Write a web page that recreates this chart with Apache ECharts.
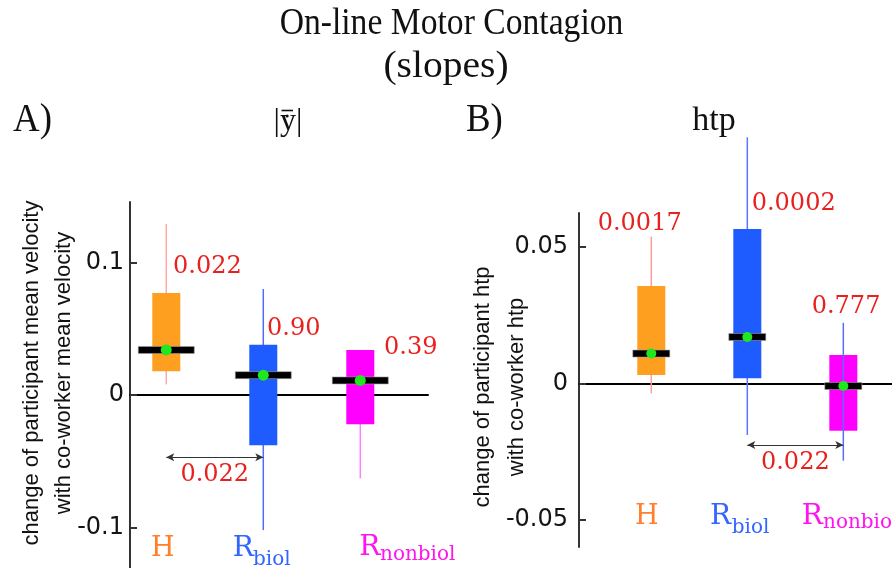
<!DOCTYPE html>
<html>
<head>
<meta charset="utf-8">
<title>On-line Motor Contagion (slopes)</title>
<script src="https://cdn.jsdelivr.net/npm/echarts@6/dist/echarts.min.js"></script>
<style>
  html, body { margin: 0; padding: 0; background: #ffffff; }
  #chart { width: 892px; height: 568px; }
</style>
</head>
<body>
<div id="chart"></div>
<script>
// Groups compared in both panels
const groups = ['H', 'Rbiol', 'Rnonbiol'];

// Panel A: slopes of |ẏ̄| (participant vs co-worker mean velocity)
const velLow    = [0.008, -0.102, -0.063];
const velQ1     = [0.018, -0.038, -0.022];
const velMedian = [0.034, 0.015, 0.011];
const velQ3     = [0.077, 0.038, 0.034];
const velHigh   = [0.129, 0.080, 0.034];
const velMean   = [0.034, 0.015, 0.011];
const velP      = ['0.022', '0.90', '0.39'];
const velTicks  = [-0.1, 0, 0.1];
const velPairP  = '0.022';   // H vs Rbiol

// Panel B: slopes of htp
const htpLow    = [-0.0037, -0.0190, -0.0284];
const htpQ1     = [0.0030, 0.0018, -0.0174];
const htpMedian = [0.0109, 0.0170, -0.0010];
const htpQ3     = [0.0357, 0.0566, 0.0104];
const htpHigh   = [0.0538, 0.0903, 0.0222];
const htpMean   = [0.0109, 0.0170, -0.0010];
const htpP      = ['0.0017', '0.0002', '0.777'];
const htpTicks  = [-0.05, 0, 0.05];
const htpPairP  = '0.022';   // Rbiol vs Rnonbiol

// ---- styling -------------------------------------------------------------
const boxColors   = ['#ff9f20', '#1f5cff', '#ff00ff'];
const labelColors = ['#ff7f2a', '#3366ff', '#ff14ee'];
const pColor = '#e8201e';
const serif = 'DejaVu Serif';
const titleSerif = 'Liberation Serif';

const styleA = {
  whisker: ['#ffa6a6', '#4f6cff', '#ff80ff'],
  whiskerFront: [false, false, false],
  boxW: 28, medW: 56, medH: 7, dotR: 5.5
};
const styleB = {
  whisker: ['#ff9c9c', '#5a78ff', '#5a6cff'],
  whiskerFront: [false, false, true],
  boxW: 28, medW: 37, medH: 7, dotR: 5
};

function rows(low, q1, med, q3, high, mean) {
  return groups.map((g, i) => [i + 1, low[i], q1[i], med[i], q3[i], high[i], mean[i]]);
}

function boxRenderer(st) {
  return function (params, api) {
    const i = params.dataIndex;
    const x = api.value(0);
    const pLow = api.coord([x, api.value(1)]);
    const pQ1 = api.coord([x, api.value(2)]);
    const pMed = api.coord([x, api.value(3)]);
    const pQ3 = api.coord([x, api.value(4)]);
    const pHigh = api.coord([x, api.value(5)]);
    const pMean = api.coord([x, api.value(6)]);
    const cx = pMed[0];
    const whisker = {
      type: 'line',
      shape: { x1: cx, y1: pHigh[1], x2: cx, y2: pLow[1] },
      style: { stroke: st.whisker[i], lineWidth: 1.5 }
    };
    const box = {
      type: 'rect',
      shape: { x: cx - st.boxW / 2, y: pQ3[1], width: st.boxW, height: pQ1[1] - pQ3[1] },
      style: { fill: boxColors[i] }
    };
    const med = {
      type: 'rect',
      shape: { x: cx - st.medW / 2, y: pMed[1] - st.medH / 2, width: st.medW, height: st.medH },
      style: { fill: '#000000', stroke: '#a0a0a0', lineWidth: 0.6 }
    };
    const dot = {
      type: 'circle',
      shape: { cx: cx, cy: pMean[1], r: st.dotR },
      style: { fill: '#1fe81f' }
    };
    const children = st.whiskerFront[i] ? [box, whisker, med, dot] : [whisker, box, med, dot];
    return { type: 'group', children: children };
  };
}

function pairLine(from, to, level, p) {
  return {
    silent: true,
    animation: false,
    symbol: ['arrow', 'arrow'],
    symbolSize: [6, 8],
    lineStyle: { color: '#333333', width: 1, type: 'solid' },
    emphasis: { disabled: true },
    label: {
      show: true, position: 'insideMiddleBottom', distance: 6,
      formatter: p, color: pColor, fontFamily: serif, fontSize: 24
    },
    data: [[{ coord: [from, level] }, { coord: [to, level] }]]
  };
}

function yAxisFor(gridIndex, min, max, ticks, margin) {
  return {
    gridIndex: gridIndex, type: 'value', min: min, max: max,
    axisLine: { show: true, onZero: false, lineStyle: { color: '#333333', width: 2 } },
    axisTick: { show: true, inside: true, length: 7, customValues: ticks,
                lineStyle: { color: '#333333', width: 2 } },
    axisLabel: { customValues: ticks, fontFamily: 'DejaVu Sans', fontSize: 24,
                 color: '#141414', margin: margin, formatter: v => String(v) },
    splitLine: { show: false }
  };
}

function xAxisFor(gridIndex, min, max) {
  return {
    gridIndex: gridIndex, type: 'value', min: min, max: max,
    axisLine: { show: true, onZero: true, lineStyle: { color: '#000000', width: 2 } },
    axisTick: { show: false }, axisLabel: { show: false }, splitLine: { show: false }
  };
}

function txt(x, y, text, font, size, color, extra) {
  return Object.assign({
    type: 'text', x: x, y: y, silent: true,
    style: Object.assign({ text: text, fontFamily: font, fontSize: size, fill: color,
                           align: 'left', verticalAlign: 'middle' }, (extra && extra.style) || {})
  }, extra && extra.el || {});
}

const graphics = [
  // heading
  txt(451.5, 24.5, 'On-line Motor Contagion', titleSerif, 38, '#111111',
      { style: { align: 'center' }, el: { scaleX: 0.885 } }),
  txt(446, 67.2, '(slopes)', titleSerif, 38, '#111111',
      { style: { align: 'center' }, el: { scaleX: 1.04 } }),
  txt(13, 120.2, 'A)', titleSerif, 41, '#111111', { el: { scaleX: 0.9 } }),
  txt(466, 120.2, 'B)', titleSerif, 41, '#111111', { el: { scaleX: 0.9 } }),

  // panel A heading: |y| with an over-dot and over-bar
  txt(288, 122, '|y|', titleSerif, 32, '#111111', { style: { align: 'center' } }),
  { type: 'line', silent: true,
    shape: { x1: 281.5, y1: 110.5, x2: 293, y2: 110.5 },
    style: { stroke: '#111111', lineWidth: 1.6 } },
  { type: 'circle', silent: true,
    shape: { cx: 287.2, cy: 116, r: 1.5 },
    style: { fill: '#111111' } },
  txt(714, 121.2, 'htp', titleSerif, 34, '#111111', { style: { align: 'center' } }),

  // axis titles
  txt(48, 373, 'change of participant mean velocity\nwith co-worker mean velocity',
      'Liberation Sans', 22, '#111111',
      { style: { align: 'center', lineHeight: 32 }, el: { rotation: Math.PI / 2 } }),
  txt(500, 387, 'change of participant htp\nwith co-worker htp',
      'Liberation Sans', 22, '#111111',
      { style: { align: 'center', lineHeight: 33.5 }, el: { rotation: Math.PI / 2 } }),

  // p-values of each group (panel A)
  txt(173, 267, velP[0], serif, 24, pColor),
  txt(267, 328.5, velP[1], serif, 24, pColor),
  txt(384, 347.5, velP[2], serif, 24, pColor),
  // p-values of each group (panel B)
  txt(597.7, 223.3, htpP[0], serif, 24, pColor),
  txt(751.7, 204, htpP[1], serif, 24, pColor),
  txt(811.7, 307, htpP[2], serif, 24, pColor),

  // group names, panel A
  txt(151, 548.8, 'H', serif, 27, labelColors[0]),
  txt(232.7, 549, 'R', serif, 28, labelColors[1]),
  txt(253, 559.8, 'biol', serif, 20, labelColors[1]),
  txt(359.3, 548.2, 'R', serif, 28, labelColors[2]),
  txt(380, 554.8, 'nonbiol', serif, 20, labelColors[2]),
  // group names, panel B
  txt(635, 516.6, 'H', serif, 27, labelColors[0]),
  txt(710, 517, 'R', serif, 28, labelColors[1]),
  txt(731.7, 528, 'biol', serif, 20, labelColors[1]),
  txt(801.7, 516.6, 'R', serif, 28, labelColors[2]),
  txt(823, 523, 'nonbiol', serif, 20, labelColors[2])
];

const chart = echarts.init(document.getElementById('chart'), null, { renderer: 'canvas' });
chart.setOption({
  animation: false,
  backgroundColor: '#ffffff',
  grid: [
    { left: 130, top: 202, width: 298, height: 366 },
    { left: 579, top: 213, width: 313, height: 334 }
  ],
  xAxis: [xAxisFor(0, 0.626, 3.698), xAxisFor(1, 0.247, 3.507)],
  yAxis: [
    yAxisFor(0, -0.1306, 0.1457, velTicks, 6),
    yAxisFor(1, -0.0601, 0.0625, htpTicks, 11)
  ],
  series: [
    {
      type: 'custom', name: '|ẏ̄|', xAxisIndex: 0, yAxisIndex: 0,
      clip: false, silent: true,
      renderItem: boxRenderer(styleA),
      encode: { x: 0, y: [1, 2, 3, 4, 5, 6] },
      data: rows(velLow, velQ1, velMedian, velQ3, velHigh, velMean),
      markLine: pairLine(1, 2, -0.047, velPairP)
    },
    {
      type: 'custom', name: 'htp', xAxisIndex: 1, yAxisIndex: 1,
      clip: false, silent: true,
      renderItem: boxRenderer(styleB),
      encode: { x: 0, y: [1, 2, 3, 4, 5, 6] },
      data: rows(htpLow, htpQ1, htpMedian, htpQ3, htpHigh, htpMean),
      markLine: pairLine(2, 3, -0.0227, htpPairP)
    }
  ],
  graphic: graphics
});
</script>
</body>
</html>
